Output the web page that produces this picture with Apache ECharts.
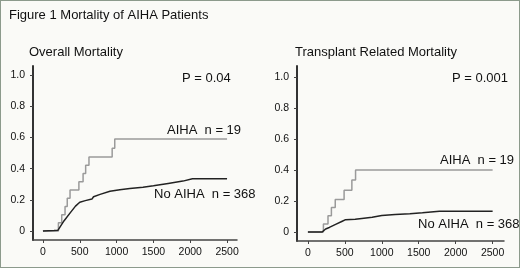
<!DOCTYPE html>
<html>
<head>
<meta charset="utf-8">
<script src="https://cdn.jsdelivr.net/npm/echarts@6/dist/echarts.min.js"></script>
<style>
  html, body { margin: 0; padding: 0; background: #fafaf7; }
  #chart { width: 520px; height: 268px; box-sizing: border-box; border: 1px solid #8c9a8c; }
</style>
</head>
<body>
<div id="chart"></div>
<script>
// Overall mortality (days vs cumulative proportion)
const overallAihaX = [0, 210, 255, 300, 330, 368, 488, 545, 580, 625, 940, 975, 2500];
const overallAihaY = [0, 0.053, 0.105, 0.158, 0.211, 0.263, 0.316, 0.368, 0.421, 0.474, 0.53, 0.59, 0.59];
const overallNoX = [0, 150, 205, 285, 375, 442, 500, 575, 665, 687, 776, 910, 1044, 1180, 1358, 1500, 1700, 1900, 2030, 2500];
const overallNoY = [0, 0.004, 0.006, 0.065, 0.12, 0.16, 0.185, 0.195, 0.205, 0.22, 0.235, 0.255, 0.265, 0.272, 0.28, 0.29, 0.305, 0.32, 0.335, 0.335];

// Transplant related mortality
const trmAihaX = [0, 210, 272, 318, 370, 490, 595, 645, 2500];
const trmAihaY = [0, 0.053, 0.105, 0.158, 0.21, 0.27, 0.335, 0.40, 0.40];
const trmNoX = [0, 190, 210, 240, 290, 375, 465, 510, 640, 730, 870, 1000, 1180, 1380, 1550, 1780, 2500];
const trmNoY = [0, 0, 0.01, 0.02, 0.03, 0.05, 0.07, 0.08, 0.083, 0.088, 0.095, 0.107, 0.113, 0.118, 0.124, 0.135, 0.135];

const xTicks = [0, 500, 1000, 1500, 2000, 2500];
const yTicks = [0, 0.2, 0.4, 0.6, 0.8, 1.0];

const FONT = '"Liberation Sans", Arial, sans-serif';
const pairs = (xs, ys) => xs.map((x, i) => [x, ys[i]]);

const chart = echarts.init(document.getElementById('chart'));

function xAx(gridIndex, min, max) {
  return {
    type: 'value', gridIndex, min, max,
    splitLine: { show: false },
    axisLine: { onZero: false, lineStyle: { color: '#444', width: 1.5 } },
    axisTick: { show: true, length: 3, customValues: xTicks, lineStyle: { color: '#444' } },
    axisLabel: {
      customValues: xTicks, color: '#111', fontFamily: FONT, fontSize: 10.5, margin: 7,
      formatter: v => String(v)
    }
  };
}
function yAx(gridIndex, min, max) {
  return {
    type: 'value', gridIndex, min, max,
    splitLine: { show: false },
    axisLine: { show: true, onZero: false, lineStyle: { color: '#333', width: 2 } },
    axisTick: { show: true, length: 3, customValues: yTicks, lineStyle: { color: '#444' } },
    axisLabel: {
      customValues: yTicks, color: '#111', fontFamily: FONT, fontSize: 10.5, margin: 8,
      formatter: v => (v === 0 ? '0' : v.toFixed(1))
    }
  };
}
function line(idx, data, color, step) {
  return {
    type: 'line', xAxisIndex: idx, yAxisIndex: idx, data,
    step: step ? 'end' : false, symbol: 'none', silent: true,
    lineStyle: { color, width: 1.5 }
  };
}
function txt(text, x, y) {
  return { type: 'text', x, y, style: { text, font: '13px ' + FONT, fill: '#111', verticalAlign: 'middle' } };
}

chart.setOption({
  animation: false,
  backgroundColor: '#fafaf7',
  grid: [
    { left: 32, right: 282, top: 65, bottom: 27 },
    { left: 296, right: 15, top: 65, bottom: 26 }
  ],
  xAxis: [xAx(0, -135, 2635), xAx(1, -147.5, 2654)],
  yAxis: [yAx(0, -0.057, 1.057), yAx(1, -0.0573, 1.07)],
  series: [
    line(0, pairs(overallAihaX, overallAihaY), '#9a9a9a', true),
    line(0, pairs(overallNoX, overallNoY), '#222', false),
    line(1, pairs(trmAihaX, trmAihaY), '#9a9a9a', true),
    line(1, pairs(trmNoX, trmNoY), '#222', false)
  ],
  graphic: [
    txt('Figure 1 Mortality of AIHA Patients', 8, 14),
    txt('Overall Mortality', 28, 51.5),
    txt('P = 0.04', 181, 77),
    txt('AIHA  n = 19', 166, 129),
    txt('No AIHA  n = 368', 153, 193),
    txt('Transplant Related Mortality', 294, 51.5),
    txt('P = 0.001', 451, 77),
    txt('AIHA  n = 19', 439, 159),
    txt('No AIHA  n = 368', 417, 223.5)
  ]
});
</script>
</body>
</html>
